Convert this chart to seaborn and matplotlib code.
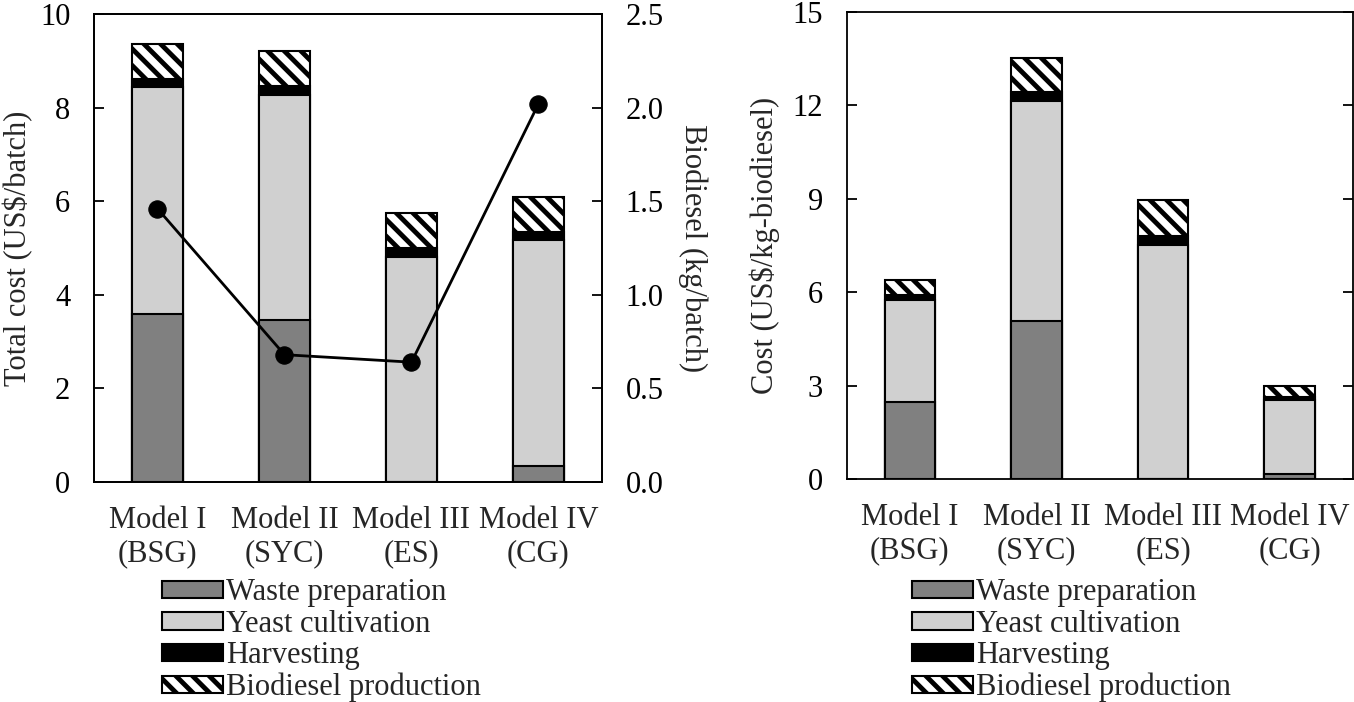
import numpy as np
import matplotlib
matplotlib.use("Agg")
import matplotlib.pyplot as plt
from matplotlib.patches import Patch
import seaborn as sns

# categories and stacked cost components
models = ["Model I\n(BSG)", "Model II\n(SYC)", "Model III\n(ES)", "Model IV\n(CG)"]
components = ["Waste preparation", "Yeast cultivation", "Harvesting", "Biodiesel production"]

# left panel: US$/batch
waste_batch = [3.60, 3.46, 0.00, 0.34]
yeast_batch = [4.85, 4.81, 4.81, 4.82]
harvest_batch = [0.17, 0.19, 0.20, 0.19]
biodiesel_batch = [0.74, 0.75, 0.73, 0.73]
biodiesel_yield = [1.46, 0.68, 0.64, 2.02]  # kg/batch

# right panel: US$/kg-biodiesel
waste_kg = [2.47, 5.08, 0.00, 0.17]
yeast_kg = [3.28, 7.06, 7.52, 2.38]
harvest_kg = [0.16, 0.28, 0.28, 0.11]
biodiesel_kg = [0.48, 1.09, 1.16, 0.34]

COLORS = ["#808080", "#d0d0d0", "black", "white"]
HATCHES = [None, None, None, "\\\\"]
FS = 22

sns.set_style("ticks")
plt.rcParams["font.family"] = ["Liberation Serif", "DejaVu Serif"]
plt.rcParams["text.parse_math"] = False
plt.rcParams["hatch.linewidth"] = 3.5
plt.rcParams["axes.edgecolor"] = "black"
plt.rcParams["axes.linewidth"] = 1.3


def stacked_bars(ax, segments):
    """Draw stacked bars by overlapping cumulative totals (tallest first)."""
    cumulative = np.cumsum(np.array(segments), axis=0)
    for i in reversed(range(len(segments))):
        sns.barplot(
            x=models,
            y=cumulative[i],
            ax=ax,
            color=COLORS[i],
            saturation=1,
            width=0.4,
            edgecolor="black",
            linewidth=1.5,
            hatch=HATCHES[i],
            errorbar=None,
        )
    ax.set_xlim(-0.5, 3.5)


def style_axis(ax):
    ax.tick_params(axis="y", direction="in", length=7, width=1.3,
                   pad=17, labelsize=FS, colors="black")
    ax.tick_params(axis="x", length=0, pad=17, labelsize=FS)
    for label in ax.get_xticklabels():
        label.set_linespacing(1.2)
    for spine in ax.spines.values():
        spine.set_visible(True)
        spine.set_color("black")


def add_legend(fig, x, y):
    handles = [Patch(facecolor=c, edgecolor="black", hatch=h, linewidth=1.5)
               for c, h in zip(COLORS, HATCHES)]
    fig.legend(
        handles, components,
        loc="upper left",
        bbox_to_anchor=(x, y),
        frameon=False,
        fontsize=FS,
        handlelength=2.0,
        handleheight=0.5,
        handletextpad=0.1,
        labelspacing=0.08,
        borderpad=0,
        borderaxespad=0,
    )


fig = plt.figure(figsize=(13.54, 7.02), dpi=100)

# left panel
ax1 = fig.add_axes([0.0694, 0.3134, 0.3752, 0.6667])
stacked_bars(ax1, [waste_batch, yeast_batch, harvest_batch, biodiesel_batch])
ax1.set_ylim(0, 10)
ax1.set_yticks(np.arange(0, 11, 2))
style_axis(ax1)
ax1.set_ylabel("Total cost (US$/batch)", fontsize=FS, va="center")
ax1.yaxis.set_label_coords(-0.15, 0.5)

ax1r = ax1.twinx()
sns.lineplot(
    x=np.arange(len(models)),
    y=biodiesel_yield,
    ax=ax1r,
    color="black",
    linewidth=2,
    marker="o",
    markersize=12.5,
    markeredgecolor="black",
)
ax1.set_xlim(-0.5, 3.5)
ax1r.set_ylim(0, 2.5)
ax1r.set_yticks(np.arange(0, 2.51, 0.5))
ax1r.set_yticklabels([f"{v:.1f}" for v in np.arange(0, 2.51, 0.5)])
ax1r.tick_params(axis="y", direction="in", length=7, width=1.3,
                 pad=17, labelsize=FS, colors="black")
ax1r.set_ylabel("Biodiesel (kg/batch)", fontsize=FS, rotation=-90, va="center")
ax1r.yaxis.set_label_coords(1.179, 0.5)
for spine in ax1r.spines.values():
    spine.set_color("black")

# right panel
ax2 = fig.add_axes([0.6252, 0.3170, 0.3741, 0.6660])
stacked_bars(ax2, [waste_kg, yeast_kg, harvest_kg, biodiesel_kg])
ax2.set_ylim(0, 15)
ax2.set_yticks(np.arange(0, 16, 3))
style_axis(ax2)
ax2.tick_params(axis="y", right=True, labelright=False)
ax2.set_ylabel("Cost (US$/kg-biodiesel)", fontsize=FS, va="center")
ax2.yaxis.set_label_coords(-0.161, 0.5)

add_legend(fig, 0.1196, 0.176)
add_legend(fig, 0.6736, 0.176)

fig.savefig("out.png", dpi=100)
